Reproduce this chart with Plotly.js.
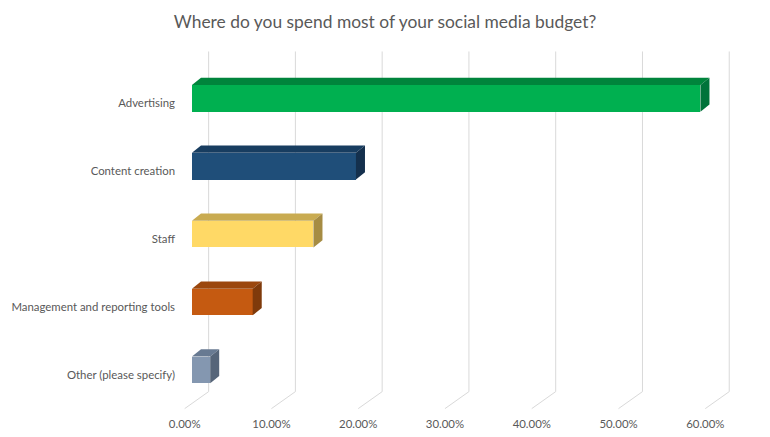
<!DOCTYPE html>
<html>
<head>
<meta charset="utf-8">
<script src="https://cdn.plot.ly/plotly-3.0.1.min.js"></script>
<style>
  html, body { margin: 0; padding: 0; background: #fff; }
  #chart { width: 770px; height: 437px; }
</style>
</head>
<body>
<div id="chart"></div>
<script>
// survey answers, share of respondents in %
const categories = ['Advertising', 'Content creation', 'Staff', 'Management and reporting tools', 'Other (please specify)'];
const shares = [58.6, 18.9, 14.0, 7.0, 2.1];
const frontColors = ['#00B050', '#1F4E79', '#FFD966', '#C55A11', '#8497B0'];
const topColors = ['#00843C', '#183D60', '#C9AB51', '#9B470E', '#687A92'];
const sideColors = ['#00733A', '#14304D', '#A68C43', '#7F3A0B', '#566579'];
const tickValues = [0, 10, 20, 30, 40, 50, 60];
const tickLabels = tickValues.map(v => v.toFixed(2) + '%');

// fake 3d look, in data units
const frontGap = 0.84;   // floor front edge -> bar front
const depthX = 1.04;     // bar depth, horizontal
const depthY = 0.107;    // bar depth, vertical
const wallX = 2.76;      // floor front -> back wall
const barW = 0.393;
const labelShift = 0.07; // excel puts the labels a bit below the bar middle
const gridTop = -0.69, floorBack = 4.32, floorFront = 4.57;

function plotChart(el) {
    let pos = categories.map((c, i) => i);

    let traces = [];
    traces.push({
        type: 'bar',
        orientation: 'h',
        y: pos,
        x: shares,
        base: frontGap,
        width: barW,
        marker: {color: frontColors, line: {width: 0}},
        hoverinfo: 'x+text',
        text: categories,
        textposition: 'none'
    });

    for (let i = 0; i < shares.length; i++) {
        let x0 = frontGap, x1 = frontGap + shares[i];
        let yt = pos[i] - barW / 2, yb = pos[i] + barW / 2;
        // top face
        traces.push({
            x: [x0, x1, x1 + depthX, x0 + depthX, x0],
            y: [yt, yt, yt - depthY, yt - depthY, yt],
            mode: 'lines', fill: 'toself', fillcolor: topColors[i],
            line: {width: 0}, hoverinfo: 'skip', showlegend: false
        });
        // right side
        traces.push({
            x: [x1, x1 + depthX, x1 + depthX, x1, x1],
            y: [yt, yt - depthY, yb - depthY, yb, yt],
            mode: 'lines', fill: 'toself', fillcolor: sideColors[i],
            line: {width: 0}, hoverinfo: 'skip', showlegend: false
        });
    }

    // gridlines on back wall, bending onto the floor
    let shapes = tickValues.map(t => ({
        type: 'path',
        xref: 'x', yref: 'y',
        layer: 'below',
        path: 'M' + (t + wallX) + ',' + gridTop + ' L' + (t + wallX) + ',' + floorBack + ' L' + t + ',' + floorFront,
        line: {color: '#D9D9D9', width: 1}
    }));

    const layout = {
        width: 770,
        height: 437,
        margin: {l: 176.3, r: 29.5, t: 44, b: 25},
        paper_bgcolor: '#fff',
        plot_bgcolor: '#fff',
        showlegend: false,
        bargap: 0,
        font: {family: 'Lato, "Open Sans", sans-serif', color: '#595959', size: 11.4},
        title: {
            text: 'Where do you spend most of your social media budget?',
            x: 0.5, xref: 'container', xanchor: 'center',
            y: 0.95, yref: 'container', yanchor: 'middle',
            font: {size: 17.4, color: '#595959'}
        },
        xaxis: {
            range: [-1, 64],
            tickvals: tickValues,
            ticktext: tickLabels,
            ticklabelstandoff: 4,
            showgrid: false,
            zeroline: false,
            showline: false,
            ticks: '',
            fixedrange: true
        },
        yaxis: {
            range: [4.62, -0.8],
            tickvals: pos.map(p => p + labelShift),
            ticktext: categories,
            showgrid: false,
            zeroline: false,
            showline: false,
            ticks: '',
            fixedrange: true
        },
        shapes: shapes
    };

    Plotly.newPlot(el, traces, layout, {displayModeBar: false});
}

plotChart('chart');
</script>
</body>
</html>
